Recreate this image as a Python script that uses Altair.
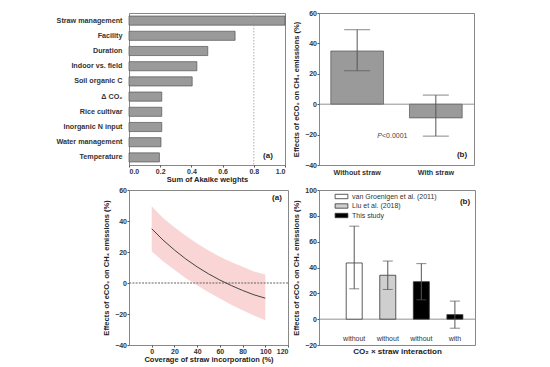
import altair as alt
import pandas as pd

FONT = "Liberation Sans"

# ---------------- data ----------------
# (a) top-left: relative importance
factors = ["Straw management", "Facility", "Duration", "Indoor vs. field",
           "Soil organic C", "\u0394 CO\u2082", "Rice cultivar",
           "Inorganic N input", "Water management", "Temperature"]
akaike_weights = [1.0, 0.68, 0.505, 0.435, 0.405, 0.21, 0.21, 0.21, 0.205, 0.195]
threshold = [0.8]

# (b) top-right: effect with / without straw
straw_cats = ["Without straw", "With straw"]
straw_effect = [35, -9]
straw_lower = [22, -21]
straw_upper = [49, 6]

# (a) bottom-left: meta-regression on straw coverage
coverage = [0, 10, 20, 30, 40, 50, 60, 70, 80, 90, 100]
fit_mean = [35, 27.7, 21.3, 15.5, 10.4, 5.9, 1.9, -1.6, -4.8, -7.6, -9.8]
fit_upper = [49.5, 42, 36, 30.5, 25.5, 21, 17, 13.5, 10.5, 7.5, 5.5]
fit_lower = [20.5, 14, 8.5, 3, -1.5, -6, -10, -14, -17.5, -21, -24]

# (b) bottom-right: comparison with previous studies
study_pos = [1, 2, 3, 4]
study_names = ["van Groenigen et al. (2011)", "Liu et al. (2018)", "This study", "This study"]
study_labels = ["without", "without", "without", "with"]
study_effect = [43.5, 34, 29, 3.5]
study_lower = [23.5, 23, 15, -7]
study_upper = [72, 45, 43, 14]
legend_order = ["van Groenigen et al. (2011)", "Liu et al. (2018)", "This study"]
legend_fill = ["white", "#cfcfcf", "black"]

panel_tags = ["(a)", "(b)", "(a)", "(b)"]
ytitle = "Effects of eCO\u2082 on CH\u2084 emissions (%)"


def tag(text, x, y):
    return alt.Chart(pd.DataFrame({"t": [text]})).mark_text(
        font=FONT, fontSize=8, fontWeight="bold", color="#222").encode(
        text="t:N", x=alt.value(x), y=alt.value(y))


# ---------------- panel 1 ----------------
d1 = pd.DataFrame({"factor": factors, "w": akaike_weights})
ax1 = alt.Axis(title="Sum of Akaike weights", values=[0, 0.2, 0.4, 0.6, 0.8, 1.0],
               format=".1f", titlePadding=1)
sc1 = alt.Scale(domain=[0, 1], nice=False)
bars1 = alt.Chart(d1).mark_bar(color="#9a9a9a", stroke="#555", strokeWidth=0.7).encode(
    x=alt.X("w:Q", scale=sc1, axis=ax1),
    y=alt.Y("factor:N", sort=factors,
            scale=alt.Scale(paddingInner=0.4, paddingOuter=0.2),
            axis=alt.Axis(title=None, ticks=False, labelPadding=7, labelFontSize=7.2)),
)
rule1 = alt.Chart(pd.DataFrame({"t": threshold})).mark_rule(
    color="#999", strokeDash=[1.5, 1.5], strokeWidth=0.8).encode(
    x=alt.X("t:Q", scale=sc1, axis=ax1))
p1 = alt.layer(bars1, rule1, tag(panel_tags[0], 139, 143)).properties(width=156, height=152)

# ---------------- panel 2 ----------------
d2 = pd.DataFrame({"cat": straw_cats, "eff": straw_effect,
                   "lo": straw_lower, "hi": straw_upper})
xs2 = alt.X("cat:N", sort=straw_cats, scale=alt.Scale(paddingInner=0.33, paddingOuter=0.15),
            axis=alt.Axis(title=None, labelAngle=0, ticks=False, labelPadding=3, labelFontSize=7.2))
ysc2 = alt.Scale(domain=[-40, 60], nice=False)
yax2 = alt.Axis(title=ytitle, values=[-40, -20, 0, 20, 40, 60], titlePadding=4)


def y2(field):
    return alt.Y(field, scale=ysc2, axis=yax2)


bars2 = alt.Chart(d2).mark_bar(color="#9a9a9a", stroke="#555", strokeWidth=0.7).encode(
    x=xs2, y=y2("eff:Q"))
zero2 = alt.Chart(pd.DataFrame({"z": [0]})).mark_rule(color="#777", strokeWidth=0.8).encode(y=y2("z:Q"))
err2 = alt.Chart(d2).mark_rule(color="#555", strokeWidth=1).encode(x=xs2, y=y2("lo:Q"), y2="hi:Q")
caplo2 = alt.Chart(d2).mark_tick(orient="horizontal", size=26, thickness=1, color="#555").encode(x=xs2, y=y2("lo:Q"))
caphi2 = alt.Chart(d2).mark_tick(orient="horizontal", size=26, thickness=1, color="#555").encode(x=xs2, y=y2("hi:Q"))
ptxt = pd.DataFrame({"p": ["P"], "r": ["<0.0001"], "y": [-21]})
pP = alt.Chart(ptxt).mark_text(font=FONT, fontSize=7, fontStyle="italic", color="#444", align="right").encode(
    text="p:N", x=alt.value(63), y=y2("y:Q"))
pR = alt.Chart(ptxt).mark_text(font=FONT, fontSize=7, color="#444", align="left").encode(
    text="r:N", x=alt.value(63), y=y2("y:Q"))
p2 = alt.layer(bars2, zero2, err2, caplo2, caphi2, pP, pR,
               tag(panel_tags[1], 143, 142)).properties(width=155, height=152)

# ---------------- panel 3 ----------------
d3 = pd.DataFrame({"cov": coverage, "m": fit_mean, "lo": fit_lower, "hi": fit_upper})
xs3 = alt.X("cov:Q", scale=alt.Scale(domain=[-20, 120], nice=False),
            axis=alt.Axis(title="Coverage of straw incorporation (%)",
                          values=[0, 20, 40, 60, 80, 100, 120], titlePadding=1))
ysc3 = alt.Scale(domain=[-40, 60], nice=False)
yax3 = alt.Axis(title=ytitle, values=[-40, -20, 0, 20, 40, 60], titlePadding=4)


def y3(field):
    return alt.Y(field, scale=ysc3, axis=yax3)


band3 = alt.Chart(d3).mark_area(color="#f8cacc", opacity=0.8).encode(
    x=xs3, y=y3("lo:Q"), y2="hi:Q")
zero3 = alt.Chart(pd.DataFrame({"z": [0]})).mark_rule(
    color="#666", strokeDash=[2, 1.2], strokeWidth=1.1).encode(y=y3("z:Q"))
line3 = alt.Chart(d3).mark_line(color="#444", strokeWidth=1).encode(x=xs3, y=y3("m:Q"))
p3 = alt.layer(band3, zero3, line3, tag(panel_tags[2], 148, 8)).properties(width=159, height=155)

# ---------------- panel 4 ----------------
d4 = pd.DataFrame({"pos": study_pos, "study": study_names, "lab": study_labels,
                   "eff": study_effect, "lo": study_lower, "hi": study_upper})
xs4 = alt.X("pos:Q", scale=alt.Scale(domain=[0.1, 4.45], nice=False, zero=False),
            axis=alt.Axis(title="CO\u2082 \u00d7 straw interaction", labels=False, ticks=False,
                          titlePadding=2, titleFontSize=8))
ysc4 = alt.Scale(domain=[-20, 100], nice=False)
yax4 = alt.Axis(title=ytitle, values=[-20, 0, 20, 40, 60, 80, 100], titlePadding=4)


def y4(field):
    return alt.Y(field, scale=ysc4, axis=yax4)


bars4 = alt.Chart(d4).mark_bar(size=16, stroke="#333", strokeWidth=0.8).encode(
    x=xs4, y=y4("eff:Q"),
    fill=alt.Fill("study:N", scale=alt.Scale(domain=legend_order, range=legend_fill),
                  legend=alt.Legend(title=None, orient="none", legendX=18, legendY=2,
                                    padding=0, rowPadding=0.5, labelFontSize=7, labelFont=FONT,
                                    labelColor="#333", symbolStrokeColor="#333",
                                    symbolStrokeWidth=0.8, symbolSize=64,
                                    symbolType="M-1.6,-0.55H1.6V0.55H-1.6Z", labelOffset=6)),
)
zero4 = alt.Chart(pd.DataFrame({"z": [0]})).mark_rule(color="#777", strokeWidth=0.8).encode(y=y4("z:Q"))
err4 = alt.Chart(d4).mark_rule(color="#555", strokeWidth=1).encode(x=xs4, y=y4("lo:Q"), y2="hi:Q")
caplo4 = alt.Chart(d4).mark_tick(orient="horizontal", size=10, thickness=1, color="#555").encode(x=xs4, y=y4("lo:Q"))
caphi4 = alt.Chart(d4).mark_tick(orient="horizontal", size=10, thickness=1, color="#555").encode(x=xs4, y=y4("hi:Q"))
labs4 = alt.Chart(d4.assign(ly=-15)).mark_text(font=FONT, fontSize=7, color="#333").encode(
    x=xs4, y=y4("ly:Q"), text="lab:N")
p4 = alt.layer(zero4, bars4, err4, caplo4, caphi4, labs4,
               tag(panel_tags[3], 146, 12)).properties(width=156, height=155)

chart = alt.concat(p1, p2, p3, p4, columns=2, spacing={"row": 1, "column": 2}).resolve_legend(
    fill="independent"
).properties(
    padding={"left": 47, "top": 0, "right": 0, "bottom": 0}
).configure_view(stroke="#888", strokeWidth=1).configure_axis(
    labelFont=FONT, titleFont=FONT, labelFontSize=7, titleFontSize=7.5,
    labelFontWeight="bold", titleFontWeight="bold", labelColor="#333", titleColor="#222",
    domain=False, grid=False, tickColor="#555", tickSize=2, labelPadding=0.5,
    labelOverlap=False, labelBound=False
).configure_legend(labelFont=FONT)

chart.save("out.html", embed_options={"renderer": "svg", "actions": False})
